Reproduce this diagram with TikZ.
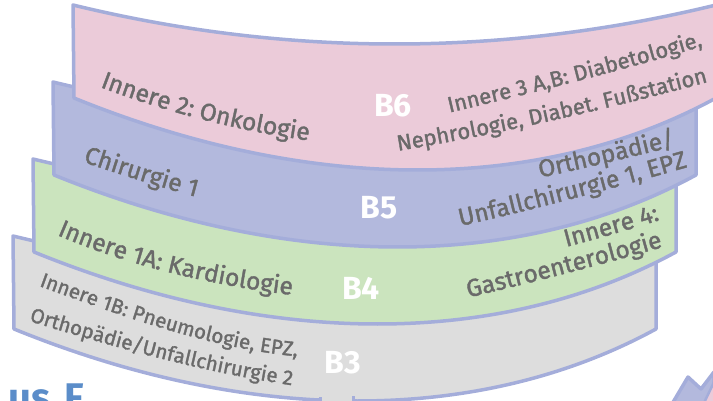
\documentclass[tikz,border=0pt]{standalone}
\usepackage{fontspec}
\setmainfont{Fira Sans}
\newfontfamily\medfont{Fira Sans}[FakeBold=1.5]
\usetikzlibrary{decorations.text}
\definecolor{bandline}{HTML}{A4ADDA}
\definecolor{fpink}{HTML}{EBCBD9}
\definecolor{fblue}{HTML}{B3B9DD}
\definecolor{fgreen}{HTML}{CBE4BE}
\definecolor{fgray}{HTML}{DDDDDD}
\definecolor{tgray}{HTML}{6A6A6A}
\definecolor{hausblue}{HTML}{5B8DC9}
\newcommand\bigtxt{\medfont\fontsize{24.5}{28}\selectfont\color{tgray}}
\newcommand\midtxt{\medfont\fontsize{22}{26}\selectfont\color{tgray}}
\newcommand\smalltxt{\medfont\fontsize{20.5}{25}\selectfont\color{tgray}}
\tikzset{
  bandstyle/.style={draw=bandline, line width=3.5pt, line join=round},
  pics/band/.style={code={
    \path[bandstyle, fill=#1] (73,5) .. controls (287,57) and (502,57) .. (716,5)
      -- (716,98) .. controls (540,194) and (310,194) .. (74,98) -- cycle;}},
  lefttext/.style={decorate, decoration={text along path, text align=left, text={#1}}},
  righttext/.style={decorate, decoration={text along path, text align=right, text={#1}}},
  blab/.style={text=white, font=\bfseries\fontsize{32}{36}\selectfont, inner sep=0pt},
}
\begin{document}
\begin{tikzpicture}[x=1pt, y=-1pt]
\useasboundingbox (0,0) rectangle (713,401);
\clip (0,0) rectangle (713,401);
% bands, back to front
\pic at (-60,231) {band=fgray};
\fill[fgray] (322,388) rectangle (352,410);
\draw[bandline, line width=3pt] (320.5,397) -- (320.5,410) (353.5,396) -- (353.5,410);
\pic at (-40,154) {band=fgreen};
\pic at (-20,77) {band=fblue};
\pic at (0,0) {band=fpink};
% B6 texts
\path[lefttext={|\bigtxt|Innere 2: Onkologie}]
  (100,87) .. controls (166,112) and (235,130) .. (305,140) -- (364,149);
\path[righttext={|\midtxt|Innere 3 A,B: Diabetologie,}]
  (394,126) -- (452,112) .. controls (537,92) and (620,71) .. (703,46);
\path[righttext={|\midtxt|Nephrologie, Diabet. Fußstation}]
  (356,158) -- (415,148) .. controls (513,131) and (611,108) .. (708,82);
% B5 texts
\path[lefttext={|\bigtxt|Chirurgie 1}]
  (83,162) .. controls (119,174) and (156,186) .. (193,196) -- (241,209);
\path[righttext={|\bigtxt|Orthopädie/}]
  (504,185) -- (553,175) .. controls (594,166) and (635,156) .. (676,146);
\path[righttext={|\bigtxt|Unfallchirurgie 1, EPZ}]
  (406,238) -- (465,225) .. controls (540,208) and (614,188) .. (688,167);
% B4 texts
\path[lefttext={|\bigtxt|Innere 1A: Kardiologie}]
  (57,235) .. controls (132,267) and (212,285) .. (292,295) -- (342,301);
\path[righttext={|\bigtxt|Innere 4:}]
  (508,262) -- (566,247) .. controls (598,238.5) and (628,230) .. (660,220);
\path[righttext={|\bigtxt|Gastroenterologie}]
  (417,310) -- (475,296) .. controls (538,281) and (600,265) .. (663,247);
% B3 texts
\path[lefttext={|\smalltxt|Innere 1B: Pneumologie, EPZ,}]
  (39,286) .. controls (122,316) and (206,347) .. (293,356) -- (343,361);
\path[lefttext={|\smalltxt|Orthopädie/Unfallchirurgie 2}]
  (29,321) .. controls (117,348) and (206,373) .. (297,386) -- (347,393);
% band labels
\node[blab] (b6) at (393,106) {B6};
\node[blab] (b5) at (379,208) {B5};
\node[blab] (b4) at (361,288) {B4};
\node[blab] (b3) at (343,363) {B3};
% partial title
\node[font=\bfseries\fontsize{40}{44}\selectfont, text=hausblue, anchor=base east, inner sep=0pt] (haus) at (84,411) {us\hspace{0.35em}F};
% partial shape bottom right
\path[bandstyle, fill=fblue] (672,404) -- (688,377) -- (701,389) -- (714,372) -- (714,404) -- cycle;
\path[fill=fpink, draw=bandline, line width=2.5pt, line join=round] (703,405) -- (714,382) -- (716,405) -- cycle;
\end{tikzpicture}
\end{document}
